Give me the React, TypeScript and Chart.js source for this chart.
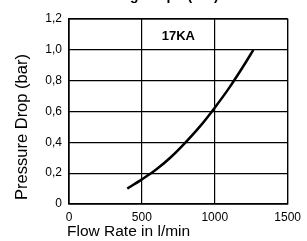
import React, { useEffect, useRef } from "react";
import { Chart, registerables } from "chart.js";

Chart.register(...registerables);

const flowRate = [400, 500, 600, 700, 800, 900, 1000, 1100, 1200, 1265];
const pressureDrop = [0.1, 0.16, 0.225, 0.305, 0.4, 0.505, 0.625, 0.755, 0.9, 1.0];
const seriesLabel = "17KA";
const xTitle = "Flow Rate in l/min";
const yTitle = "Pressure Drop (bar)";
const topTitle = "Sizing Graph (bar)";
const xTicks = [0, 500, 1000, 1500];
const yTicks = [0, 0.2, 0.4, 0.6, 0.8, 1.0, 1.2];

const FONT = "'Liberation Sans', Arial, Helvetica, sans-serif";

const textPlugin = {
  id: "texts",
  afterDraw(chart: any) {
    const ctx = chart.ctx;
    const a = chart.chartArea;
    ctx.save();
    ctx.fillStyle = "#000";
    // series label in plot
    ctx.font = `bold 13px ${FONT}`;
    ctx.textAlign = "center";
    ctx.textBaseline = "middle";
    ctx.fillText(seriesLabel, (a.left + a.right) / 2, 36);
    // cropped top title (only descenders visible)
    ctx.font = `bold 14px ${FONT}`;
    ctx.textBaseline = "alphabetic";
    ctx.fillText(topTitle, 158, 0);
    // x title
    ctx.font = `15.5px ${FONT}`;
    ctx.textAlign = "left";
    ctx.textBaseline = "middle";
    ctx.fillText(xTitle, 67, 232);
    // y title
    ctx.translate(22, 127);
    ctx.rotate(-Math.PI / 2);
    ctx.font = `16.5px ${FONT}`;
    ctx.textAlign = "center";
    ctx.fillText(yTitle, 0, 0);
    ctx.restore();
  },
};

export default function App() {
  const ref = useRef<HTMLCanvasElement>(null);
  useEffect(() => {
    const chart = new Chart(ref.current!, {
      type: "line",
      data: {
        datasets: [
          {
            label: seriesLabel,
            data: flowRate.map((x, i) => ({ x, y: pressureDrop[i] })),
            borderColor: "#000",
            borderWidth: 2.5,
            pointRadius: 0,
            tension: 0.4,
            cubicInterpolationMode: "monotone",
            fill: false,
          },
        ],
      },
      options: {
        animation: false,
        responsive: false,
        layout: { padding: { top: 19, right: 17, left: 0, bottom: 0 } },
        plugins: { legend: { display: false }, tooltip: { enabled: false } },
        scales: {
          x: {
            type: "linear",
            min: 0,
            max: 1500,
            afterBuildTicks: (s: any) => {
              s.ticks = xTicks.map((v) => ({ value: v }));
            },
            afterFit: (s: any) => {
              s.height = 37;
            },
            ticks: {
              color: "#000",
              font: { size: 12, family: FONT },
              padding: 6,
              maxRotation: 0,
              callback: (v: any) => String(v),
            },
            grid: { color: "#000", lineWidth: 1.2, drawTicks: false },
            border: { color: "#000", width: 1.2 },
          },
          y: {
            type: "linear",
            min: 0,
            max: 1.2,
            afterBuildTicks: (s: any) => {
              s.ticks = yTicks.map((v) => ({ value: v }));
            },
            afterFit: (s: any) => {
              s.width = 69;
            },
            ticks: {
              color: "#000",
              font: { size: 12, family: FONT },
              padding: 7,
              callback: (v: any) => (v === 0 ? "0" : Number(v).toFixed(1).replace(".", ",")),
            },
            grid: { color: "#000", lineWidth: 1.2, drawTicks: false },
            border: { color: "#000", width: 1.2 },
          },
        },
      },
      plugins: [
        textPlugin,
        {
          id: "frame",
          afterDatasetsDraw(chart: any) {
            const a = chart.chartArea;
            const ctx = chart.ctx;
            ctx.save();
            ctx.strokeStyle = "#000";
            ctx.lineWidth = 1.2;
            ctx.strokeRect(a.left, a.top, a.right - a.left, a.bottom - a.top);
            ctx.restore();
          },
        },
      ],
    } as any);
    return () => chart.destroy();
  }, []);
  return (
    <div style={{ position: "fixed", left: 0, top: 0, width: 307, height: 241, background: "#fff" }}>
      <canvas ref={ref} width={307} height={241} style={{ width: 307, height: 241 }} />
    </div>
  );
}
